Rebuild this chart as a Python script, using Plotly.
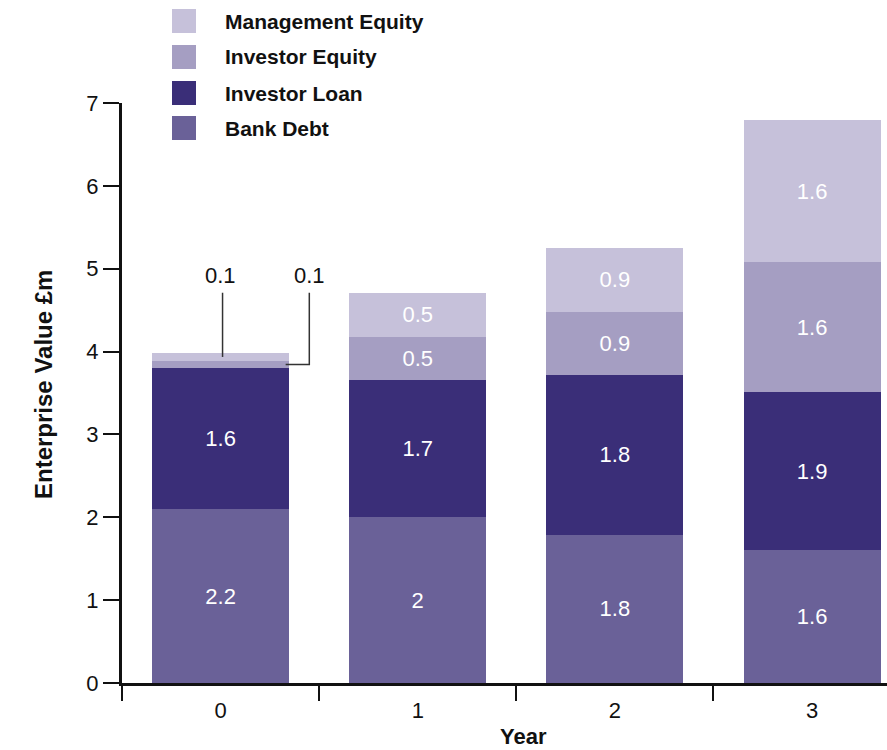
import plotly.graph_objects as go

# ---------------- data ----------------
years = ["0", "1", "2", "3"]
series_names = ["Bank Debt", "Investor Loan", "Investor Equity", "Management Equity"]
bank_debt = [2.10, 2.00, 1.79, 1.60]
investor_loan = [1.70, 1.66, 1.93, 1.91]
investor_equity = [0.09, 0.52, 0.76, 1.57]
management_equity = [0.09, 0.53, 0.77, 1.71]

bank_debt_labels = ["2.2", "2", "1.8", "1.6"]
investor_loan_labels = ["1.6", "1.7", "1.8", "1.9"]
investor_equity_labels = ["", "0.5", "0.9", "1.6"]
management_equity_labels = ["", "0.5", "0.9", "1.6"]
callout_labels = ["0.1", "0.1"]  # year 0: management equity, investor equity

y_ticks = [0, 1, 2, 3, 4, 5, 6, 7]

# ---------------- style ----------------
colors = {
    "Bank Debt": "#6A6198",
    "Investor Loan": "#3A2E78",
    "Investor Equity": "#A59EC2",
    "Management Equity": "#C6C1DA",
}
FONT = "Liberation Sans, Arial, sans-serif"
W, H = 887, 750
L, R, T, B = 122, 0, 103, 67
plot_w = W - L - R
plot_h = H - T - B


def px2x(p):
    return (p - L) / plot_w


def py2y(p):
    return (H - B - p) / plot_h


values = [bank_debt, investor_loan, investor_equity, management_equity]
labels = [bank_debt_labels, investor_loan_labels, investor_equity_labels, management_equity_labels]

fig = go.Figure()
for name, vals, labs in zip(series_names, values, labels):
    fig.add_trace(go.Bar(
        x=years, y=vals, name=name, text=labs,
        marker=dict(color=colors[name], line=dict(width=0)),
        textposition="inside", insidetextanchor="middle", textangle=0,
        textfont=dict(color="white", size=22, family=FONT),
        showlegend=False, hoverinfo="skip",
    ))

# ---------- call-outs for the thin year-0 segments ----------
base0 = bank_debt[0] + investor_loan[0]
mgmt_mid = base0 + investor_equity[0] + management_equity[0] / 2
ieq_mid = base0 + investor_equity[0] / 2
label_y = 4.92
line_top = 4.71
shapes = [
    dict(type="line", xref="x", yref="y", x0=0.01, x1=0.01, y0=line_top, y1=mgmt_mid,
         line=dict(color="#333", width=1.5)),
    dict(type="path", xref="x", yref="y",
         path=f"M 0.45 {line_top} L 0.45 {ieq_mid} L 0.33 {ieq_mid}",
         line=dict(color="#333", width=1.5)),
]
annotations = [
    dict(x=0.0, y=label_y, xref="x", yref="y", text=callout_labels[0], showarrow=False,
         xanchor="center", yanchor="middle",
         font=dict(size=22, family=FONT, color="#111")),
    dict(x=0.45, y=label_y, xref="x", yref="y", text=callout_labels[1], showarrow=False,
         xanchor="center", yanchor="middle",
         font=dict(size=22, family=FONT, color="#111")),
]

# ---------- legend (drawn) ----------
legend_rows = list(reversed(series_names))
row_centers = [21, 57, 93, 128]
for name, cy in zip(legend_rows, row_centers):
    shapes.append(dict(type="rect", xref="paper", yref="paper",
                       x0=px2x(172), x1=px2x(196), y0=py2y(cy + 12), y1=py2y(cy - 12),
                       fillcolor=colors[name], line=dict(width=0)))
    annotations.append(dict(x=px2x(223), y=py2y(cy), xref="paper", yref="paper",
                            text=f"<b>{name}</b>", showarrow=False, xanchor="left",
                            yanchor="middle", font=dict(size=21, family=FONT, color="#111")))

# axis titles
annotations.append(dict(x=px2x(43), y=py2y(385), xref="paper", yref="paper",
                        text="<b>Enterprise Value £m</b>", textangle=-90, showarrow=False,
                        xanchor="center", yanchor="middle",
                        font=dict(size=24, family=FONT, color="#111")))
annotations.append(dict(x=px2x(523), y=py2y(736), xref="paper", yref="paper",
                        text="<b>Year</b>", showarrow=False,
                        xanchor="center", yanchor="middle",
                        font=dict(size=22, family=FONT, color="#111")))

fig.update_layout(
    width=W, height=H,
    margin=dict(l=L, r=R, t=T, b=B, pad=0),
    barmode="stack", bargap=0.305,
    plot_bgcolor="white", paper_bgcolor="white",
    font=dict(family=FONT, size=20, color="#111"),
    shapes=shapes, annotations=annotations,
    uniformtext=dict(minsize=8, mode="show"),
    xaxis=dict(
        type="category", range=[-0.5, 3.38], tickson="boundaries",
        ticks="outside", ticklen=15, tickwidth=2, tickcolor="#111",
        showline=True, linecolor="#111", linewidth=3, showgrid=False,
        ticklabelstandoff=6,
        tickfont=dict(size=22, family=FONT, color="#111"), zeroline=False,
    ),
    yaxis=dict(
        range=[0, 7], tickvals=y_ticks, ticks="outside", ticklen=16, tickwidth=2,
        tickcolor="#111", showline=True, linecolor="#111", linewidth=3,
        showgrid=False, zeroline=False,
        tickfont=dict(size=22, family=FONT, color="#111"),
    ),
)

fig.write_html("out.html")
